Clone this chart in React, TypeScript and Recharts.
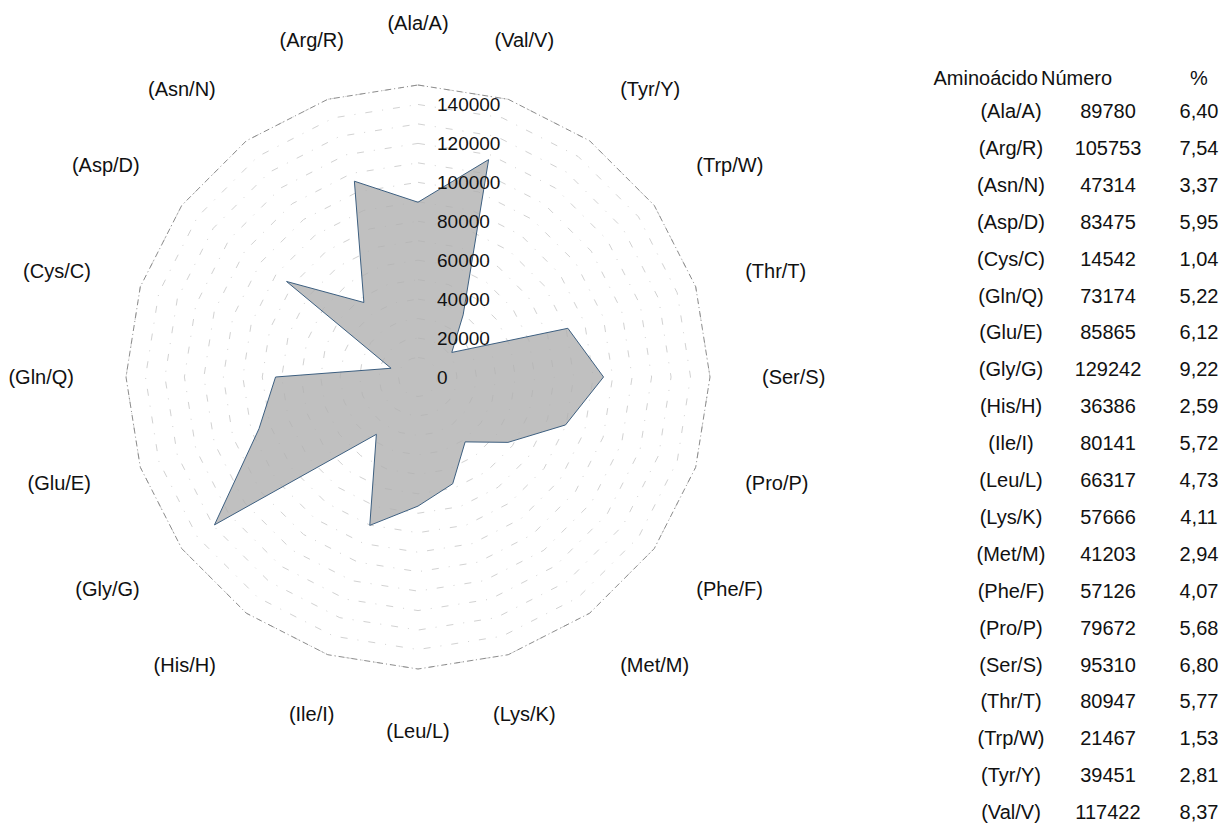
import React from "react";
import {
  PolarAngleAxis,
  PolarGrid,
  PolarRadiusAxis,
  Radar,
  RadarChart,
} from "recharts";

// alphabetical order, as in the table
const aminoacids = [
  "(Ala/A)", "(Arg/R)", "(Asn/N)", "(Asp/D)", "(Cys/C)",
  "(Gln/Q)", "(Glu/E)", "(Gly/G)", "(His/H)", "(Ile/I)",
  "(Leu/L)", "(Lys/K)", "(Met/M)", "(Phe/F)", "(Pro/P)",
  "(Ser/S)", "(Thr/T)", "(Trp/W)", "(Tyr/Y)", "(Val/V)",
];
const counts = [
  89780, 105753, 47314, 83475, 14542,
  73174, 85865, 129242, 36386, 80141,
  66317, 57666, 41203, 57126, 79672,
  95310, 80947, 21467, 39451, 117422,
];
const percents = [
  "6,40", "7,54", "3,37", "5,95", "1,04",
  "5,22", "6,12", "9,22", "2,59", "5,72",
  "4,73", "4,11", "2,94", "4,07", "5,68",
  "6,80", "5,77", "1,53", "2,81", "8,37",
];
const headers = ["Aminoácido", "Número", "%"];

// grid rings every 10000, labels every 20000
const gridTicks = [
  0, 10000, 20000, 30000, 40000, 50000, 60000, 70000,
  80000, 90000, 100000, 110000, 120000, 130000, 140000, 150000,
];
const labelTicks = [0, 20000, 40000, 60000, 80000, 100000, 120000, 140000];

// radar goes counter-clockwise through the alphabet: Ala on top, then Val, Tyr, ...
const radarOrder = [0, ...aminoacids.slice(1).map((_, i) => aminoacids.length - 1 - i)];
const data = radarOrder.map((i) => ({ name: aminoacids[i], value: counts[i] }));

const FONT = '"Liberation Sans", Arial, sans-serif';
const CX = 418;
const CY = 377;
const OUTER = 292;
const LABEL_R = 344;

// Excel-like placement: box hangs off the spoke end depending on the quadrant
function AngleTick(props: any) {
  const { x, y, payload } = props;
  const dx = x - CX;
  const dy = y - CY;
  const len = Math.hypot(dx, dy) || 1;
  const s = dx / len;
  const c = -dy / len;
  const px = CX + s * LABEL_R;
  const py = CY - c * LABEL_R;
  const anchor = s > 0.45 ? "start" : s < -0.45 ? "end" : "middle";
  const shift = c > 0.45 ? -10 : c < -0.45 ? 10 : 0;
  return (
    <text
      x={px}
      y={py + shift}
      dy="0.35em"
      textAnchor={anchor}
      fontSize={20}
      fontFamily={FONT}
      fill="#111"
    >
      {payload.value}
    </text>
  );
}

function RadiusTick(props: any) {
  const { x, y, payload } = props;
  if (!labelTicks.includes(payload.value)) return <g />;
  return (
    <text
      x={x + 19}
      y={y}
      dy="0.35em"
      textAnchor="start"
      fontSize={19}
      fontFamily={FONT}
      fill="#111"
    >
      {payload.value}
    </text>
  );
}

const HEADER_Y = 78;
const ROW0 = 111;
const ROW_STEP = 36.9;

function Cell({ x, y, w, align, children }: any) {
  return (
    <div
      style={{
        position: "absolute",
        left: x,
        top: y - 12,
        width: w,
        height: 24,
        lineHeight: "24px",
        textAlign: align,
        fontSize: 20,
        fontFamily: FONT,
        color: "#111",
        whiteSpace: "nowrap",
      }}
    >
      {children}
    </div>
  );
}

export default function App() {
  return (
    <div
      style={{
        position: "absolute",
        left: 0,
        top: 0,
        width: 1224,
        height: 833,
        background: "#fff",
        overflow: "hidden",
      }}
    >
      <div style={{ position: "absolute", left: 0, top: 0 }}>
        <RadarChart
          width={860}
          height={833}
          data={data}
          cx={CX}
          cy={CY}
          outerRadius={OUTER}
          startAngle={90}
          endAngle={-270}
          margin={{ top: 0, right: 0, bottom: 0, left: 0 }}
        >
          <PolarGrid
            gridType="polygon"
            radialLines={false}
            stroke="#d2d2d2"
            strokeDasharray="7 10 1 10"
          />
          <PolarAngleAxis
            dataKey="name"
            axisLineType="polygon"
            axisLine={{ stroke: "#8c8c8c", strokeDasharray: "6 3 1 3" }}
            tickLine={false}
            tick={<AngleTick />}
          />
          <Radar
            dataKey="value"
            stroke="#3d5f80"
            strokeWidth={1}
            fill="#b0b0b0"
            fillOpacity={0.8}
            isAnimationActive={false}
          />
          <PolarRadiusAxis
            angle={90}
            type="number"
            domain={[0, 150000]}
            ticks={gridTicks}
            axisLine={false}
            tickLine={false}
            tick={<RadiusTick />}
          />
        </RadarChart>
      </div>

      <Cell x={900} y={HEADER_Y} w={138} align="right">{headers[0]}</Cell>
      <Cell x={1041} y={HEADER_Y} w={100} align="left">{headers[1]}</Cell>
      <Cell x={1169} y={HEADER_Y} w={60} align="center">{headers[2]}</Cell>
      {aminoacids.map((name, i) => (
        <React.Fragment key={name}>
          <Cell x={961} y={ROW0 + i * ROW_STEP} w={100} align="center">{name}</Cell>
          <Cell x={1058} y={ROW0 + i * ROW_STEP} w={100} align="center">{counts[i]}</Cell>
          <Cell x={1169} y={ROW0 + i * ROW_STEP} w={60} align="center">{percents[i]}</Cell>
        </React.Fragment>
      ))}
    </div>
  );
}
